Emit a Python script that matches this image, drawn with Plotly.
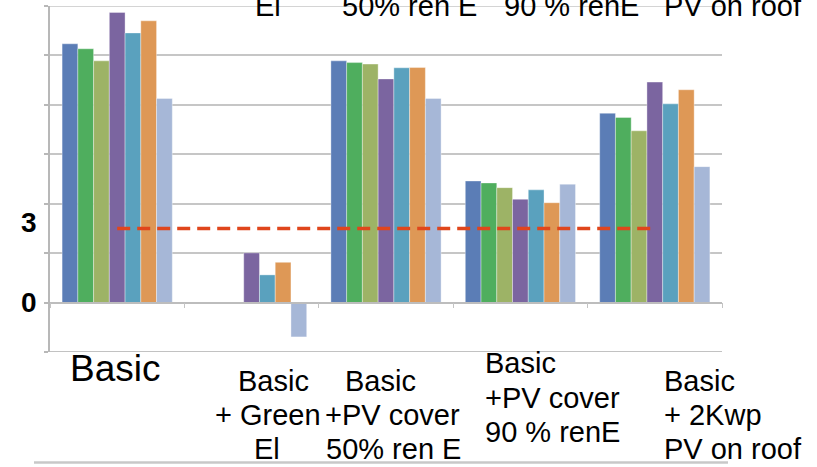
import plotly.graph_objects as go

# ---------------- data ----------------
categories = ["Basic", "Basic + Green El", "Basic +PV cover 50% ren E",
              "Basic +PV cover 90 % renE", "Basic + 2Kwp PV on roof"]
series_names = ["S1", "S2", "S3", "S4", "S5", "S6", "S7"]
series_colors = ["#5b7db6", "#4fae5e", "#9db366", "#7b65a0", "#5aa1be", "#de9856", "#a6b7d7"]
s1 = [10.47, 0.0, 9.78, 4.92, 7.66]
s2 = [10.27, 0.0, 9.71, 4.84, 7.49]
s3 = [9.78, 0.0, 9.65, 4.65, 6.95]
s4 = [11.74, 2.01, 9.05, 4.18, 8.92]
s5 = [10.91, 1.12, 9.50, 4.56, 8.04]
s6 = [11.40, 1.63, 9.51, 4.04, 8.61]
s7 = [8.26, -1.39, 8.26, 4.79, 5.50]
series_values = [s1, s2, s3, s4, s5, s6, s7]
threshold = 3
y_labels = ["3", "0"]
y_label_vals = [3, 0]

label_lines = [
    ["Basic"],
    ["Basic", "+ Green", "El"],
    ["Basic", "+PV cover", "50% ren E"],
    ["Basic", "+PV cover", "90 % renE"],
    ["Basic", "+ 2Kwp", "PV on roof"],
]
top_lines = ["El", "50% ren E", "90 % renE", "PV on roof"]

# ---------------- layout geometry (pixels) ----------------
W, H = 817, 467
L, R, T, B = 50, 95, 6, 115
PW, PH = W - L - R, H - T - B
Y0, Y1 = -2, 12


def px2x(px):
    return (px - L) / PW


def py2y(py):
    return (H - B - py) / PH


fig = go.Figure()
for name, vals, col in zip(series_names, series_values, series_colors):
    fig.add_trace(go.Bar(x=categories, y=vals, name=name,
                         marker=dict(color=col, line=dict(color="rgba(255,255,255,0.6)", width=0.6))))

fig.add_trace(go.Scatter(x=[categories[0], categories[-1]], y=[threshold, threshold],
                         mode="lines", line=dict(color="#e0461c", width=3.5, dash="13px,7px"),
                         showlegend=False, hoverinfo="skip"))

annotations = []
font_big = dict(family="Arial, Liberation Sans", size=37, color="black")
font_lab = dict(family="Arial, Liberation Sans", size=29, color="black")

# (left px, cap-center py) per line
line_pos = [
    [(68, 369)],
    [(236, 380.5), (213, 414.5), (252, 448.5)],
    [(343, 380.5), (323, 414.5), (324, 448.5)],
    [(483, 362.5), (483, 397.5), (483, 431.5)],
    [(662, 380.5), (662, 414.5), (662, 448.5)],
]
for gi, lines in enumerate(label_lines):
    for li, txt in enumerate(lines):
        px, py = line_pos[gi][li]
        annotations.append(dict(text=txt, xref="paper", yref="paper", x=px2x(px), y=py2y(py),
                                xanchor="left", yanchor="middle", showarrow=False,
                                font=font_big if gi == 0 else font_lab))

top_pos = [253, 340, 502, 662]
for txt, px in zip(top_lines, top_pos):
    annotations.append(dict(text=txt, xref="paper", yref="paper", x=px2x(px), y=py2y(5.5),
                            xanchor="left", yanchor="middle", showarrow=False, font=font_lab))

for txt, v, shift in zip(y_labels, y_label_vals, [6, 0]):
    annotations.append(dict(text="<b>" + txt + "</b>", xref="paper", yref="y", x=px2x(29), y=v,
                            yshift=shift, xanchor="center", yanchor="middle", showarrow=False,
                            font=dict(family="Arial, Liberation Sans", size=28, color="black")))

grid_col = "#c6c6c6"
shapes = [
    # plot-area top and bottom border lines (grid at range ends)
    dict(type="line", xref="paper", yref="y", x0=0, x1=1, y0=Y1, y1=Y1, layer="below",
         line=dict(color=grid_col, width=1.5)),
    dict(type="line", xref="paper", yref="y", x0=0, x1=1, y0=Y0, y1=Y0, layer="below",
         line=dict(color="#c2c2c2", width=2)),
    # slide divider line at the very bottom
    dict(type="line", xref="paper", yref="paper", x0=px2x(34), x1=px2x(728),
         y0=py2y(462.5), y1=py2y(462.5), line=dict(color="#c8c8c8", width=2.5)),
]

fig.update_layout(
    width=W, height=H,
    margin=dict(l=L, r=R, t=T, b=B, pad=0),
    paper_bgcolor="white", plot_bgcolor="white",
    barmode="group", bargap=0.18, bargroupgap=0,
    showlegend=False,
    annotations=annotations,
    shapes=shapes,
    xaxis=dict(type="category", categoryorder="array", categoryarray=categories,
               range=[-0.5, 4.5], anchor="free", position=(0 - Y0) / (Y1 - Y0),
               showline=True, linecolor="#bdbdbd", linewidth=1.5,
               ticks="outside", tickson="boundaries", ticklen=5, tickcolor="#c4c4c4", tickwidth=1.2,
               showticklabels=False, showgrid=False, zeroline=False),
    yaxis=dict(range=[Y0, Y1], tick0=0, dtick=2, showticklabels=False,
               showline=True, linecolor="#b8b8b8", linewidth=1.5,
               ticks="outside", ticklen=4, tickcolor="#b8b8b8", tickwidth=1.5,
               showgrid=True, gridcolor=grid_col, gridwidth=1.5, zeroline=False),
)

fig.write_html("out.html")
